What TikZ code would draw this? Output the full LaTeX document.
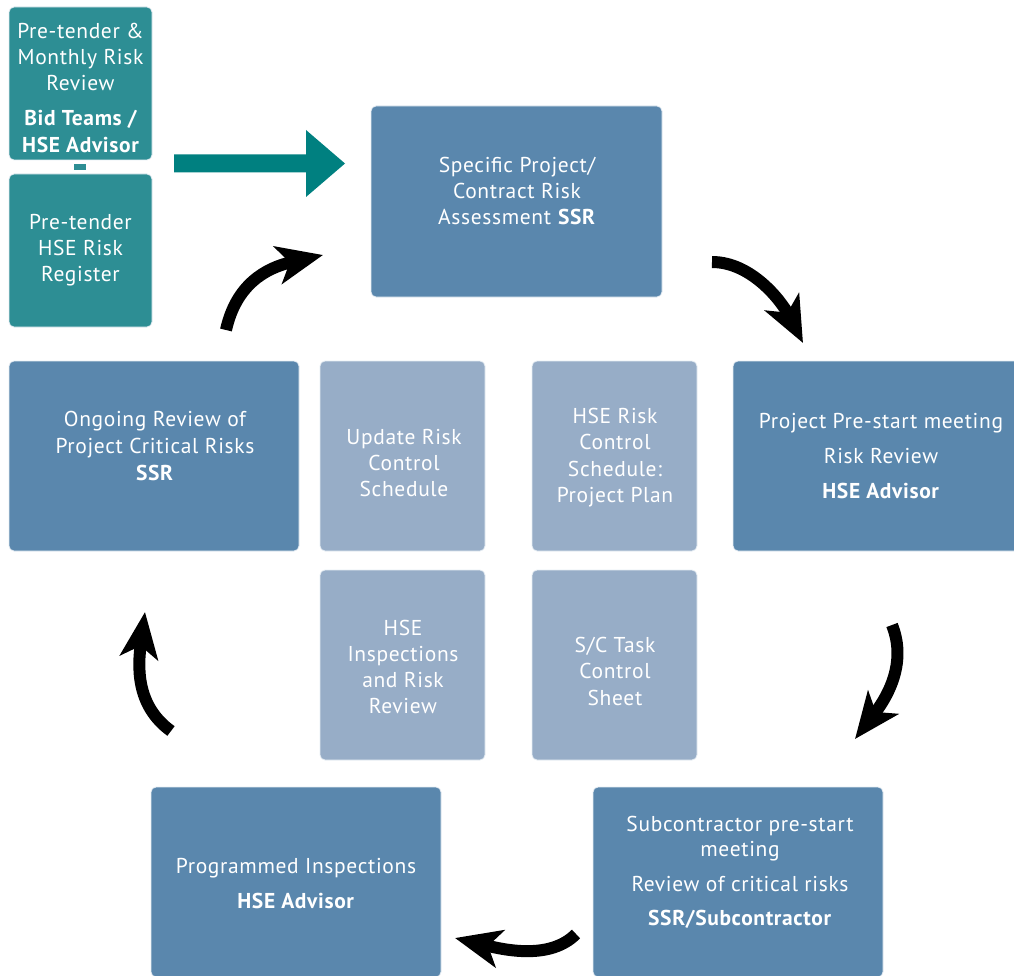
\documentclass[tikz,border=0pt]{standalone}
\usepackage{fontspec}
\setmainfont[LetterSpace=3]{PT Sans}
\usetikzlibrary{arrows.meta}
\definecolor{dblue}{RGB}{90,135,173}
\definecolor{lblue}{RGB}{151,173,199}
\definecolor{tealbox}{RGB}{45,142,148}
\definecolor{tealarrow}{RGB}{0,128,128}
\tikzset{
  box/.style={rounded corners=5pt, draw=white!85!dblue, line width=0.8pt, text=white, align=center,
    font=\fontsize{21.5}{26}\selectfont, inner sep=0pt},
  darkbox/.style={box, fill=dblue},
  lightbox/.style={box, fill=lblue},
  tbox/.style={box, fill=tealbox},
  cyc/.style={line width=12pt, -{Stealth[length=46pt,width=38pt,inset=12pt]}, black}
}
\begin{document}
\begin{tikzpicture}[x=1pt,y=-1pt]
\useasboundingbox (0,0) rectangle (1014,976);
% teal boxes
\node[tbox, minimum width=143pt, minimum height=153pt] (t1) at (80.5,83.5) {};
\node[font=\fontsize{21.5}{26}\selectfont, text=white, align=center] at (80.5,57) {Pre-tender \&\\Monthly Risk\\Review};
\node[font=\fontsize{21.5}{27}\selectfont\bfseries, text=white, align=center] at (80.5,131) {Bid Teams /\\HSE Advisor};
\node[tbox, minimum width=143pt, minimum height=153pt] (t2) at (80.5,250.5) {Pre-tender\\HSE Risk\\Register};
\fill[tealbox] (74,164) rectangle (86,170);
% teal arrow
\coordinate (ta) at (174,163.5);
\coordinate (tb) at (345,163.5);
\fill[tealarrow] (ta) ++(0,-9) -- (306,154.5) -- (306,130) -- (tb) -- (306,197) -- (306,172.5) -- (174,172.5) -- cycle;
% main boxes
\node[darkbox, minimum width=291pt, minimum height=191pt] (spec) at (516.5,201.5) {};
\node[font=\fontsize{21.5}{26}\selectfont, text=white, align=center] at (517,191) {Specific Project/\\Contract Risk\\Assessment \textbf{SSR}};
\node[darkbox, minimum width=300pt, minimum height=190pt] (pre) at (883,456) {};
\node[font=\fontsize{21.5}{35}\selectfont, text=white, align=center] at (881,456) {Project Pre-start meeting\\Risk Review\\\textbf{HSE Advisor}};
\node[darkbox, minimum width=290pt, minimum height=190pt] (ong) at (154,456) {};
\node[font=\fontsize{21.5}{27}\selectfont, text=white, align=center] at (155,446) {Ongoing Review of\\Project Critical Risks\\\textbf{SSR}};
\node[darkbox, minimum width=290pt, minimum height=190pt] (prog) at (296,882) {};
\node[font=\fontsize{21.5}{35}\selectfont, text=white, align=center] at (296,883.5) {Programmed Inspections\\\textbf{HSE Advisor}};
\node[darkbox, minimum width=290pt, minimum height=190pt] (sub) at (738,882) {};
\node[font=\fontsize{21.5}{25}\selectfont, text=white, align=center] at (740,838.5) {Subcontractor pre-start\\meeting};
\node[font=\fontsize{21.5}{34}\selectfont, text=white, align=center] at (740,902) {Review of critical risks\\\textbf{SSR/Subcontractor}};
% light boxes
\node[lightbox, minimum width=165pt, minimum height=190pt] (upd) at (402.5,456) {};
\node[font=\fontsize{21.5}{26}\selectfont, text=white, align=center] at (404,463) {Update Risk\\Control\\Schedule};
\node[lightbox, minimum width=165pt, minimum height=190pt] (plan) at (614.5,456) {};
\node[font=\fontsize{21.5}{26.3}\selectfont, text=white, align=center] at (615,457.5) {HSE Risk\\Control\\Schedule:\\Project Plan};
\node[lightbox, minimum width=165pt, minimum height=190pt] (insp) at (402.5,665) {};
\node[font=\fontsize{21.5}{26}\selectfont, text=white, align=center] at (403,667) {HSE\\Inspections\\and Risk\\Review};
\node[lightbox, minimum width=165pt, minimum height=190pt] (sc) at (614.5,665) {};
\node[font=\fontsize{21.5}{26.5}\selectfont, text=white, align=center] at (615,671) {S/C Task\\Control\\Sheet};
% cycle arrows
\coordinate (a1s) at (226,330); \coordinate (a1e) at (323,255);
\draw[cyc] (a1s) .. controls (236,285) and (265,268) .. (a1e);
\coordinate (a2s) at (712,262); \coordinate (a2e) at (803,343);
\draw[cyc] (a2s) .. controls (752,262) and (782,302) .. (a2e);
\coordinate (a3s) at (892,625); \coordinate (a3e) at (855,739);
\draw[cyc] (a3s) .. controls (908,665) and (885,700) .. (a3e);
\coordinate (a4s) at (576,934); \coordinate (a4e) at (455,938);
\draw[cyc] (a4s) .. controls (550,960) and (505,950) .. (a4e);
\coordinate (a5s) at (171,731); \coordinate (a5e) at (145,612);
\draw[cyc] (a5s) .. controls (135,705) and (138,665) .. (a5e);
\end{tikzpicture}
\end{document}
